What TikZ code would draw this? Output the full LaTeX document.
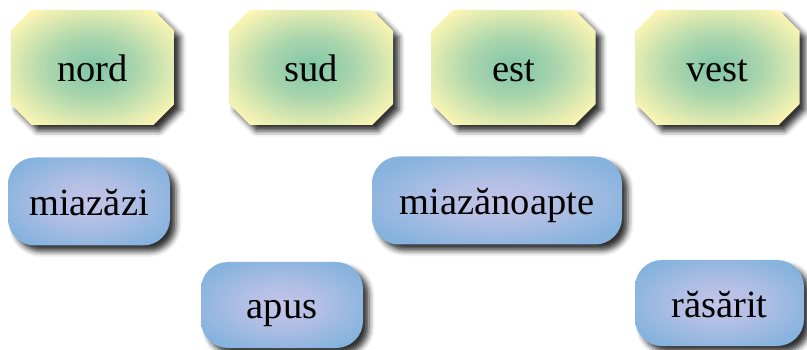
\documentclass[tikz,border=0pt]{standalone}
\usepackage{fontspec}
\setmainfont{Liberation Serif}
\usetikzlibrary{shadows.blur}
\definecolor{yelout}{HTML}{FFF6B4}
\definecolor{yelin}{HTML}{80C5A8}
\definecolor{bluout}{HTML}{86B3DE}
\definecolor{bluin}{HTML}{C4C4E7}
\pgfdeclareradialshading{yelshade}{\pgfpoint{0bp}{0bp}}{color(0bp)=(yelin); color(13bp)=(yelin!68!yelout); color(23bp)=(yelin!30!yelout); color(31bp)=(yelout); color(50bp)=(yelout)}
\pgfdeclareradialshading{blushade}{\pgfpoint{0bp}{0bp}}{color(0bp)=(bluin); color(12bp)=(bluin!70!bluout); color(29bp)=(bluout); color(50bp)=(bluout)}
\tikzset{
  lbl/.style={font=\fontsize{38.5}{44}\selectfont, text height=28pt, text depth=0pt, inner sep=0pt},
  shade/.style={blur shadow={shadow xshift=6pt, shadow yshift=-6pt, shadow blur radius=5.5pt, shadow opacity=80}},
  octbox/.style={lbl, rectangle, minimum width=164pt, minimum height=115pt},
  octfill/.style={shade, shading=yelshade},
  rndbox/.style={lbl, shade, rectangle, rounded corners=27pt, minimum height=88pt, shading=blushade},
}
\newcommand{\octpath}[1]{%
  \path[octfill] (#1) ++(-61,-57.5) -- ++(122,0) -- ++(21,21) -- ++(0,73)
    -- ++(-21,21) -- ++(-122,0) -- ++(-21,-21) -- ++(0,-73) -- cycle;}
\begin{document}
\begin{tikzpicture}[x=1pt,y=-1pt]
\useasboundingbox (0,0) rectangle (807,350);
\coordinate (cnord) at (92.5,67.5);
\coordinate (csud) at (311,67.5);
\coordinate (cest) at (513.5,67.5);
\coordinate (cvest) at (717.5,67.5);
\octpath{cnord}
\octpath{csud}
\octpath{cest}
\octpath{cvest}
\node[octbox] (nord) at (cnord) {nord};
\node[octbox] (sud) at (csud) {sud};
\node[octbox] (est) at (cest) {est};
\node[octbox] (vest) at (cvest) {vest};
\node[rndbox, minimum width=162pt] (miazazi) at (89,201.5) {miazăzi};
\node[rndbox, minimum width=250pt] (miazanoapte) at (497,200.5) {miazănoapte};
\node[rndbox, minimum width=162pt, minimum height=86pt] (apus) at (282,305) {apus};
\node[rndbox, minimum width=169pt, minimum height=86pt] (rasarit) at (719.5,303) {răsărit};
\end{tikzpicture}
\end{document}
